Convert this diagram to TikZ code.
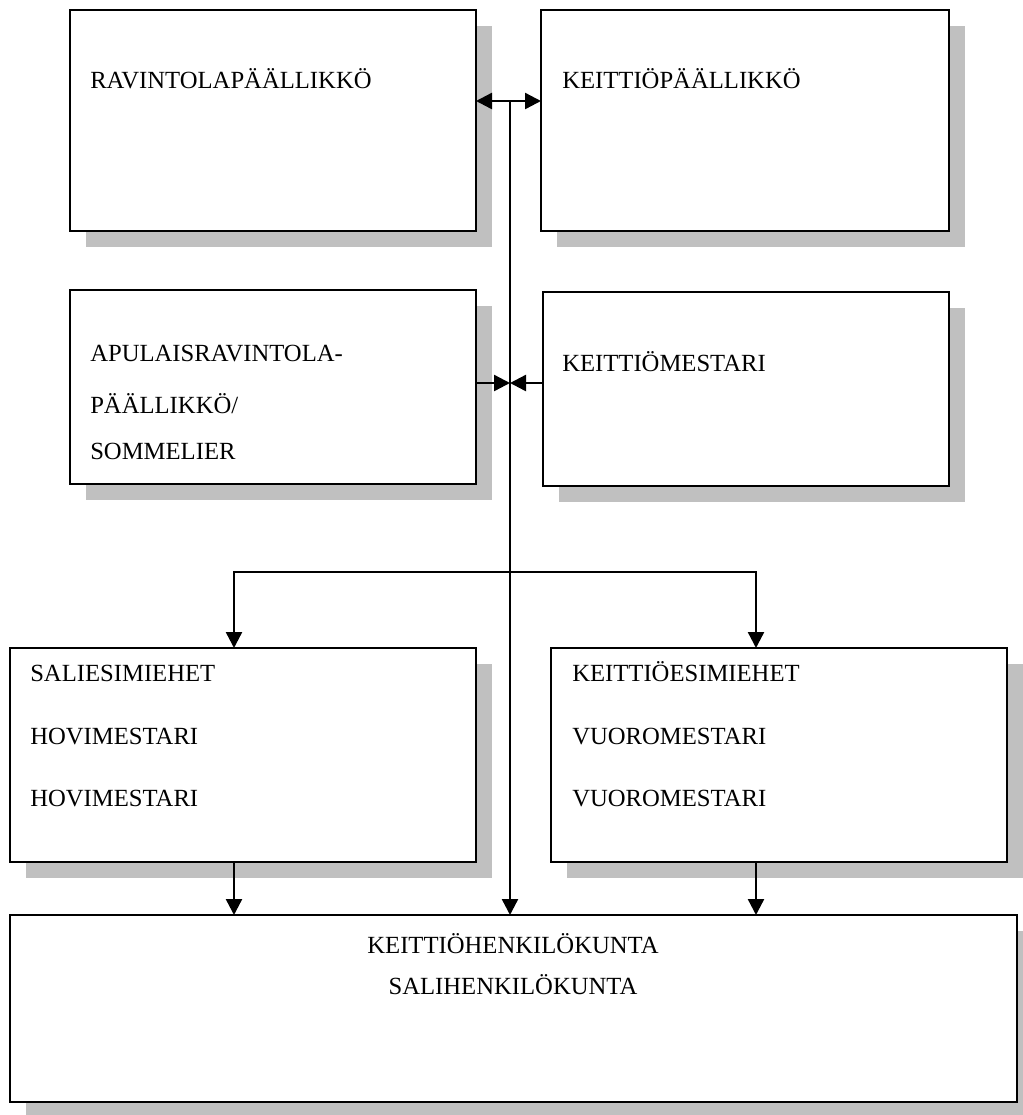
\documentclass[tikz,border=0pt]{standalone}
\usepackage{fontspec}
\setmainfont{Liberation Serif}
\usetikzlibrary{arrows.meta,shadows,fit}
\definecolor{shadowgray}{RGB}{192,192,192}
\tikzset{
  box/.style={draw=black, line width=1.8pt, fill=white, inner sep=0pt, outer sep=0pt,
    drop shadow={shadow xshift=12pt, shadow yshift=-12pt, fill=shadowgray, opacity=1}},
  lbl/.style={anchor=base west, inner sep=0pt, font=\fontsize{18.5}{21}\selectfont},
  clbl/.style={anchor=base, inner sep=0pt, font=\fontsize{18.5}{21}\selectfont},
  arr/.style={line width=1.8pt, -{Triangle[length=12pt,width=12pt]}},
  darr/.style={line width=1.8pt, {Triangle[length=12pt,width=12pt]}-{Triangle[length=12pt,width=12pt]}},
  ln/.style={line width=1.8pt}
}
\begin{document}
\begin{tikzpicture}[x=0.75pt,y=-0.75pt]
\useasboundingbox (0,0) rectangle (1023,1115);
% boxes
\node[box, fit={(70,10) (476,231)}] (b1) {};
\node[box, fit={(541,10) (949,231)}] (b2) {};
\node[box, fit={(70,290) (476,484)}] (b3) {};
\node[box, fit={(543,292) (949,486)}] (b4) {};
\node[box, fit={(10,648) (476,862)}] (b5) {};
\node[box, fit={(551,648) (1007,862)}] (b6) {};
\node[box, fit={(10,915) (1017,1102)}] (b7) {};
% texts
\node[lbl] (t1) at (90,88) {RAVINTOLAPÄÄLLIKKÖ};
\node[lbl] (t2) at (562,88) {KEITTIÖPÄÄLLIKKÖ};
\node[lbl] (t3a) at (90,361) {APULAISRAVINTOLA-};
\node[lbl] (t3b) at (90,413) {PÄÄLLIKKÖ/};
\node[lbl] (t3c) at (90,459) {SOMMELIER};
\node[lbl] (t4) at (562,371) {KEITTIÖMESTARI};
\node[lbl] (t5a) at (30,681) {SALIESIMIEHET};
\node[lbl] (t5b) at (30,744) {HOVIMESTARI};
\node[lbl] (t5c) at (30,806) {HOVIMESTARI};
\node[lbl] (t6a) at (572,681) {KEITTIÖESIMIEHET};
\node[lbl] (t6b) at (572,744) {VUOROMESTARI};
\node[lbl] (t6c) at (572,806) {VUOROMESTARI};
\node[clbl] (t7a) at (513,953) {KEITTIÖHENKILÖKUNTA};
\node[clbl] (t7b) at (513,994) {SALIHENKILÖKUNTA};
% connector coordinates
\coordinate (top) at (510,101);
\coordinate (mid) at (510,383);
\coordinate (br) at (510,572);
\coordinate (lx) at (234,572);
\coordinate (rx) at (756,572);
% connectors
\draw[darr] (b1.east |- top) -- (b2.west |- top);
\draw[arr] (top) -- (top |- b7.north);
\draw[arr] (b3.east |- mid) -- (mid);
\draw[arr] (b4.west |- mid) -- (mid);
\draw[arr] (br) -| (lx |- b5.north);
\draw[arr] (br) -| (rx |- b6.north);
\draw[arr] (lx |- b5.south) -- (lx |- b7.north);
\draw[arr] (rx |- b6.south) -- (rx |- b7.north);
\end{tikzpicture}
\end{document}
